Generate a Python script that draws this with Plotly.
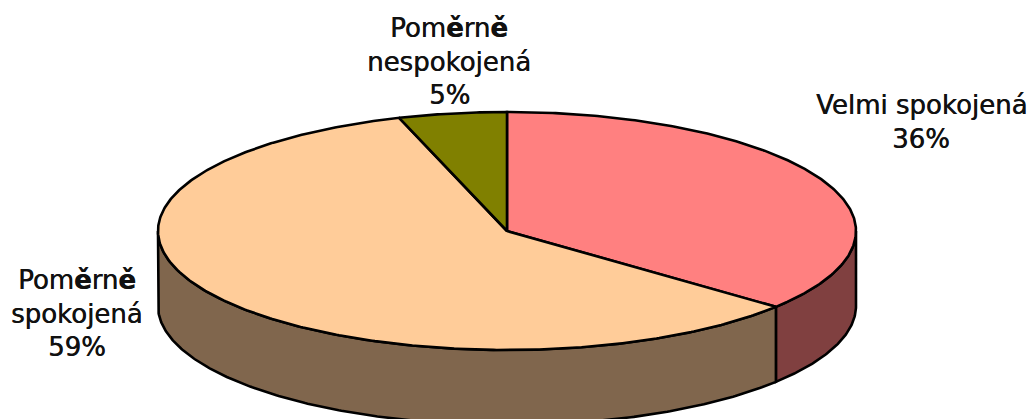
import math
import plotly.graph_objects as go

categories = ["Velmi spokojená", "Poměrně spokojená", "Poměrně nespokojená"]
values = [36, 59, 5]
top_colors = ["#FF8080", "#FFCC99", "#808000"]
side_colors = ["#804040", "#80664D", "#404000"]
label_lines = [
    ["Velmi spokojená", "36%"],
    ["Pom<b>ě</b>rn<b>ě</b>", "spokojená", "59%"],
    ["Pom<b>ě</b>rn<b>ě</b>", "nespokojená", "5%"],
]
label_x = [921, 77, 449]
label_y0 = [105, 280, 28]

W, H = 1029, 419
cx, cy, rx, ry, depth = 507, 231, 349, 119, 75
LINE = dict(color="black", width=2.6)
STEP = 0.5


def pt(deg, dy=0):
    a = math.radians(deg)
    return cx + rx * math.sin(a), cy - ry * math.cos(a) + dy


def arc(a0, a1, dy=0):
    n = max(2, int(abs(a1 - a0) / STEP) + 1)
    return [pt(a0 + (a1 - a0) * i / (n - 1), dy) for i in range(n)]


total = sum(values)
edges = [0]
for v in values:
    edges.append(edges[-1] + v / total * 360)

fig = go.Figure()


def poly(points, color):
    fig.add_trace(go.Scatter(
        x=[p[0] for p in points], y=[p[1] for p in points],
        mode="lines", fill="toself", fillcolor=color, line=LINE,
        hoverinfo="skip", showlegend=False))


# side walls: only the front half of the rim (90..270 degrees) is visible
for i in range(len(values)):
    a0, a1 = max(edges[i], 90), min(edges[i + 1], 270)
    if a1 > a0:
        poly(arc(a0, a1) + arc(a1, a0, depth) + [pt(a0)], side_colors[i])

# top face
for i in range(len(values)):
    poly([(cx, cy)] + arc(edges[i], edges[i + 1]) + [(cx, cy)], top_colors[i])

ann = []
for lines, x, y0 in zip(label_lines, label_x, label_y0):
    for j, t in enumerate(lines):
        ann.append(dict(x=x, y=y0 + j * 33.5, text=t, showarrow=False,
                        xanchor="center", yanchor="middle",
                        font=dict(family="DejaVu Sans", size=26, color="#111111",
                                  shadow="0.4px 0 0 #111111")))

fig.update_layout(
    width=W, height=H, margin=dict(l=0, r=0, t=0, b=0),
    paper_bgcolor="white", plot_bgcolor="white", showlegend=False,
    xaxis=dict(range=[0, W], visible=False, fixedrange=True),
    yaxis=dict(range=[H, 0], visible=False, fixedrange=True),
    annotations=ann,
)
fig.write_html("out.html", config={"displayModeBar": False},
               post_script="document.documentElement.style.margin='0';document.body.style.margin='0';document.body.style.overflow='hidden';")
